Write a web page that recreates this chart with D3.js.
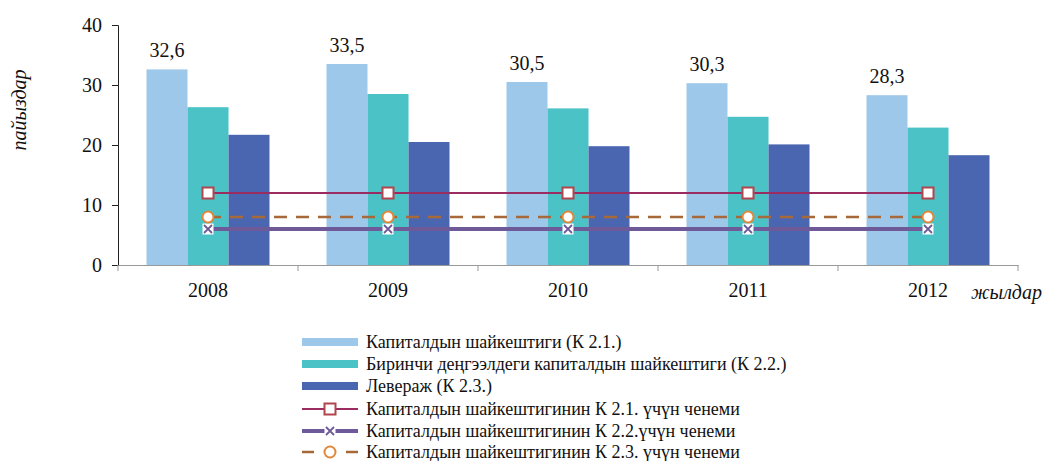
<!DOCTYPE html>
<html><head><meta charset="utf-8">
<script src="https://cdn.jsdelivr.net/npm/d3@7"></script>
<style>body{margin:0;background:#fff}svg{display:block}text{font-family:"Liberation Serif","Times New Roman",serif}</style>
</head><body><svg id="c" width="1048" height="461"></svg>
<script>
const years = ["2008","2009","2010","2011","2012"];
const barNames = ["Капиталдын шайкештиги (К 2.1.)","Биринчи деңгээлдеги капиталдын шайкештиги (К 2.2.)","Левераж (К 2.3.)"];
const k21 = [32.6,33.5,30.5,30.3,28.3];
const k22 = [26.3,28.5,26.1,24.7,22.9];
const k23 = [21.7,20.5,19.8,20.1,18.3];
const lineNames = ["Капиталдын шайкештигинин К 2.1. үчүн ченеми","Капиталдын шайкештигинин К 2.2.үчүн ченеми","Капиталдын шайкештигинин К 2.3. үчүн ченеми"];
const norm21 = [12,12,12,12,12];
const norm22 = [6,6,6,6,6];
const norm23 = [8,8,8,8,8];
const yTicks = [0,10,20,30,40];

const barColors = ["#9dc8e9","#4ac2c6","#4a66b0"];
const svg = d3.select("#c");
const L=118,R=1018,T=25,B=265;
const x0 = d3.scaleBand().domain(years).range([L,R]).padding(0);
const x1 = d3.scaleBand().domain([0,1,2]).range([28.5,151.5]).padding(0);
const y = d3.scaleLinear().domain([0,40]).range([B,T]);

// bars
const barSeries=[k21,k22,k23];
barSeries.forEach((s,i)=>{
  svg.append("g").selectAll("rect").data(s).join("rect")
    .attr("x",(d,j)=>x0(years[j])+x1(i)).attr("width",x1.bandwidth())
    .attr("y",d=>y(d)).attr("height",d=>B-y(d)).attr("fill",barColors[i]);
});
// labels
svg.append("g").selectAll("text").data(k21).join("text")
  .attr("x",(d,j)=>x0(years[j])+x1(0)+x1.bandwidth()/2).attr("y",d=>y(d)-12)
  .attr("text-anchor","middle").attr("font-size",20).attr("fill","#111")
  .text(d=>d.toFixed(1).replace(".",","));

// axes
const yAx = svg.append("g").attr("transform",`translate(${L},0)`)
  .call(d3.axisLeft(y).tickValues(yTicks).tickSize(6).tickPadding(10));
yAx.select(".domain").attr("stroke","#222");
yAx.selectAll(".tick line").attr("stroke","#222");
yAx.selectAll("text").attr("font-size",20).attr("fill","#111").attr("font-family","Liberation Serif");
const xAx = svg.append("g").attr("transform",`translate(0,${B})`)
  .call(d3.axisBottom(x0).tickSize(0).tickPadding(18));
xAx.select(".domain").attr("stroke","#999");
xAx.selectAll("text").attr("font-size",20).attr("fill","#111").attr("font-family","Liberation Serif");
const bounds = years.map(d=>x0(d)).concat([R]);
svg.append("g").selectAll("line").data(bounds).join("line")
  .attr("x1",d=>d).attr("x2",d=>d).attr("y1",B).attr("y2",B+6).attr("stroke","#999");

svg.append("text").attr("transform","translate(26,110) rotate(-90)").attr("text-anchor","middle")
  .attr("font-size",20).attr("font-style","italic").attr("fill","#111").text("пайыздар");
svg.append("text").attr("x",971).attr("y",299).attr("font-size",20).attr("font-style","italic").attr("fill","#111").text("жылдар");

// norm lines
const cx = j=>x0(years[j])+x0.bandwidth()/2;
const lineGen = d3.line().x((d,j)=>cx(j)).y(d=>y(d));
const lines = [
  {data:norm22,color:"#6e5a98",w:4,dash:null,marker:"x"},
  {data:norm23,color:"#a8693a",w:2.5,dash:"13,9",marker:"circle"},
  {data:norm21,color:"#9b2c62",w:2.2,dash:null,marker:"square"}
];
function drawMarker(g,type,x,yy){
  if(type==="square"){
    g.append("rect").attr("x",x-5.5).attr("y",yy-5.5).attr("width",11).attr("height",11)
      .attr("fill","#fff").attr("stroke","#b0454c").attr("stroke-width",2);
  } else if(type==="circle"){
    g.append("circle").attr("cx",x).attr("cy",yy).attr("r",5.5).attr("fill","#fff").attr("stroke","#e0883a").attr("stroke-width",2);
  } else {
    g.append("rect").attr("x",x-5.5).attr("y",yy-5.5).attr("width",11).attr("height",11).attr("fill","#fff");
    g.append("path").attr("d",`M${x-4},${yy-4}L${x+4},${yy+4}M${x-4},${yy+4}L${x+4},${yy-4}`)
      .attr("stroke","#6e5a98").attr("stroke-width",1.8);
  }
}
lines.forEach(l=>{
  svg.append("path").datum(l.data).attr("d",lineGen).attr("fill","none")
    .attr("stroke",l.color).attr("stroke-width",l.w).attr("stroke-dasharray",l.dash);
});
lines.forEach(l=>{
  const g=svg.append("g");
  l.data.forEach((d,j)=>drawMarker(g,l.marker,cx(j),y(d)));
});

// legend
const lg = svg.append("g");
const lx0=302,lx1=358,tx=366,rowY=[342,364,386,409,431,452];
barNames.forEach((n,i)=>{
  lg.append("rect").attr("x",lx0).attr("y",rowY[i]-4).attr("width",lx1-lx0).attr("height",8).attr("fill",barColors[i]);
  lg.append("text").attr("x",tx).attr("y",rowY[i]+6).attr("font-size",18).attr("fill","#111").text(n);
});
const legLines=[lines[2],lines[0],lines[1]];
lineNames.forEach((n,k)=>{
  const i=k+3,l=legLines[k],yy=rowY[i],mx=(lx0+lx1)/2;
  lg.append("line").attr("x1",lx0).attr("x2",lx1).attr("y1",yy).attr("y2",yy)
    .attr("stroke",l.color).attr("stroke-width",l.w).attr("stroke-dasharray",l.dash?"12,10":null);
  drawMarker(lg,l.marker,mx,yy);
  lg.append("text").attr("x",tx).attr("y",yy+6).attr("font-size",18).attr("fill","#111").text(n);
});
</script></body></html>
